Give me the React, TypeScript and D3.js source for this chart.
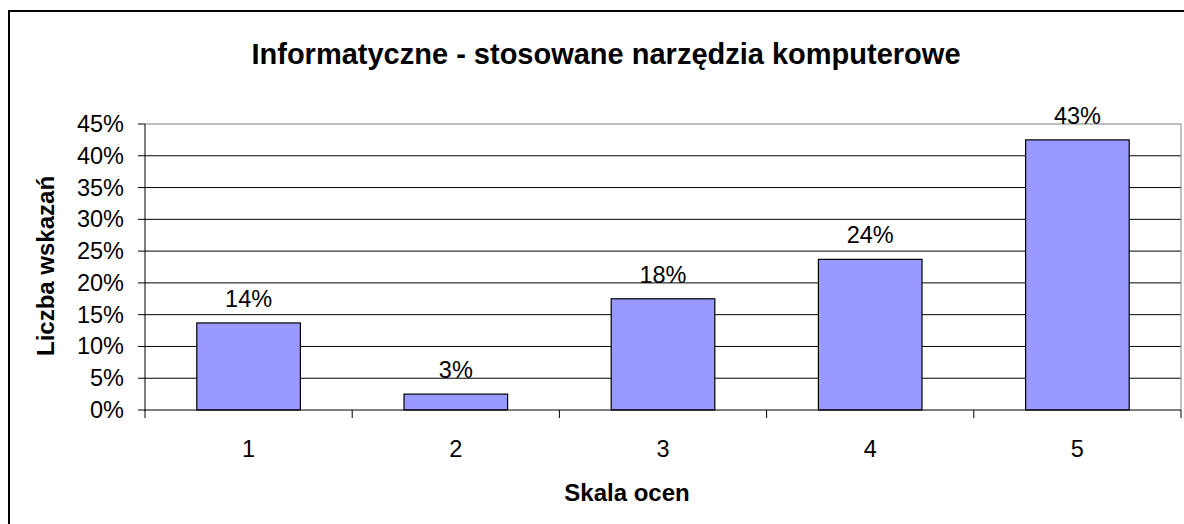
import React from "react";
import * as d3 from "d3";

const categories = ["1", "2", "3", "4", "5"];
const values = [13.7, 2.5, 17.5, 23.7, 42.5];
const yTicks = [0, 5, 10, 15, 20, 25, 30, 35, 40, 45];
const title = "Informatyczne - stosowane narzędzia komputerowe";
const yTitle = "Liczba wskazań";
const xTitle = "Skala ocen";

const W = 1184;
const H = 524;
const plot = { left: 145, right: 1181, top: 124, bottom: 410 };
const font = "Arial, 'Liberation Sans', sans-serif";

export default function App() {
  const x = d3
    .scaleBand<string>()
    .domain(categories)
    .range([plot.left, plot.right])
    .paddingInner(0.5)
    .paddingOuter(0.25);
  const y = d3.scaleLinear().domain([0, 45]).range([plot.bottom, plot.top]);
  const step = (plot.right - plot.left) / categories.length;
  const catTicks = d3.range(categories.length + 1).map((i) => plot.left + i * step);

  return (
    <svg
      width={W}
      height={H}
      style={{ position: "absolute", left: 0, top: 0, display: "block" }}
      fontFamily={font}
    >
      <rect x={0} y={0} width={W} height={H} fill="#fff" />
      <rect x={9} y={11} width={W + 20} height={H + 20} fill="none" stroke="#000" strokeWidth={2} />
      <text x={606} y={64} textAnchor="middle" fontSize={29} fontWeight="bold" fill="#000">
        {title}
      </text>
      {yTicks.slice(1, -1).map((t) => (
        <line key={t} x1={plot.left} x2={plot.right} y1={y(t)} y2={y(t)} stroke="#000" strokeWidth={1} />
      ))}
      <line x1={plot.left} x2={plot.right} y1={y(45)} y2={y(45)} stroke="#808080" strokeWidth={1} />
      <line x1={plot.right} x2={plot.right} y1={plot.top} y2={plot.bottom} stroke="#808080" strokeWidth={1} />
      {values.map((v, i) => (
        <rect
          key={i}
          x={x(categories[i])}
          y={y(v)}
          width={x.bandwidth()}
          height={y(0) - y(v)}
          fill="#9999ff"
          stroke="#000"
          strokeWidth={1.2}
        />
      ))}
      <line x1={plot.left} x2={plot.left} y1={plot.top} y2={plot.bottom + 1} stroke="#000" strokeWidth={1} />
      <line x1={plot.left} x2={plot.right} y1={plot.bottom} y2={plot.bottom} stroke="#000" strokeWidth={1} />
      {yTicks.map((t) => (
        <g key={t}>
          <line x1={plot.left - 7} x2={plot.left} y1={y(t)} y2={y(t)} stroke="#000" />
          <text x={124} y={y(t) + 8} textAnchor="end" fontSize={23.5} fill="#000">
            {t + "%"}
          </text>
        </g>
      ))}
      {catTicks.map((cx, i) => (
        <line key={i} x1={cx} x2={cx} y1={plot.bottom} y2={plot.bottom + 8} stroke="#000" />
      ))}
      {categories.map((c) => (
        <text key={c} x={(x(c) as number) + x.bandwidth() / 2} y={457} textAnchor="middle" fontSize={23.5} fill="#000">
          {c}
        </text>
      ))}
      {values.map((v, i) => (
        <text
          key={i}
          x={(x(categories[i]) as number) + x.bandwidth() / 2}
          y={y(v) - 16}
          textAnchor="middle"
          fontSize={23.5}
          fill="#000"
        >
          {Math.round(v) + "%"}
        </text>
      ))}
      <text x={627} y={501} textAnchor="middle" fontSize={24} fontWeight="bold" fill="#000">
        {xTitle}
      </text>
      <text
        transform={`translate(54, ${266}) rotate(-90)`}
        textAnchor="middle"
        fontSize={24}
        fontWeight="bold"
        fill="#000"
      >
        {yTitle}
      </text>
    </svg>
  );
}
